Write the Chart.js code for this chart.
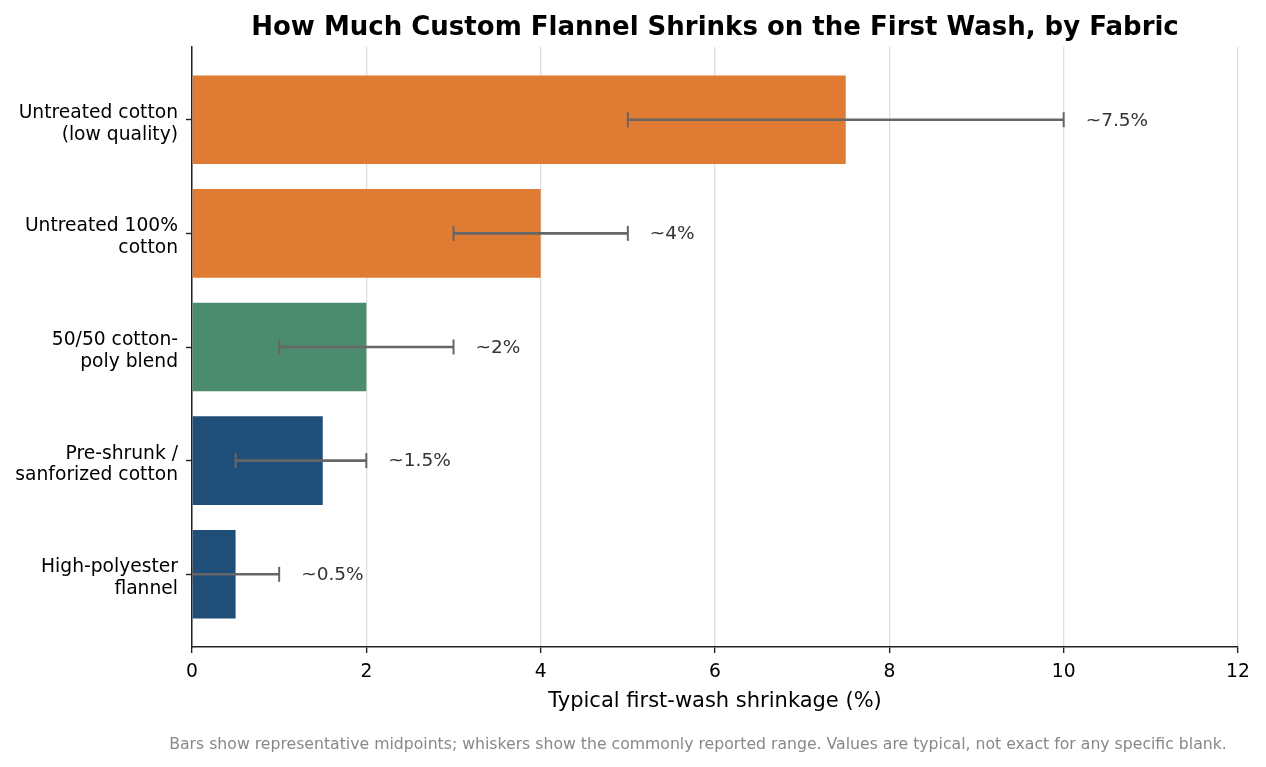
<!DOCTYPE html>
<html>
<head>
<meta charset="utf-8">
<title>Flannel shrinkage</title>
<script src="https://cdn.jsdelivr.net/npm/chart.js@4.4.1/dist/chart.umd.min.js"></script>
<style>
    body { margin: 0; background: #fff; }
    #wrap { width: 1266px; height: 767px; position: relative; }
</style>
</head>
<body>
<div id="wrap"><canvas id="chart"></canvas></div>
<script>
// data
const fabrics = [
    ['Untreated cotton', '(low quality)'],
    ['Untreated 100%', 'cotton'],
    ['50/50 cotton-', 'poly blend'],
    ['Pre-shrunk /', 'sanforized cotton'],
    ['High-polyester', 'flannel'],
]
const midpoints  = [7.5, 4, 2, 1.5, 0.5]
const rangeLow   = [5, 3, 1, 0.5, 0]
const rangeHigh  = [10, 5, 3, 2, 1]
const valueLabels = ['~7.5%', '~4%', '~2%', '~1.5%', '~0.5%']
const xTicks = [0, 2, 4, 6, 8, 10, 12]
const barColors = ['#E07B33', '#E07B33', '#4C8C6E', '#1F4E79', '#1F4E79']

const titleText = 'How Much Custom Flannel Shrinks on the First Wash, by Fabric'
const xTitle = 'Typical first-wash shrinkage (%)'
const footnote = 'Bars show representative midpoints; whiskers show the commonly reported range. Values are typical, not exact for any specific blank.'

const FONT = '"DejaVu Sans", sans-serif'
const AXIS = '#222222'
const WHISKER = '#666666'

const capPoints = []
fabrics.forEach((_, i) => {
    capPoints.push({ x: rangeLow[i], y: i })
    capPoints.push({ x: rangeHigh[i], y: i })
})

// title, footnote and "~x%" labels
const textPlugin = {
    id: 'texts',
    afterDatasetsDraw(chart) {
        const { ctx, scales } = chart
        ctx.save()
        ctx.textBaseline = 'middle'
        ctx.fillStyle = '#333333'
        ctx.font = `18.5px ${FONT}`
        ctx.textAlign = 'left'
        valueLabels.forEach((label, i) => {
            ctx.fillText(label, scales.x.getPixelForValue(rangeHigh[i]) + 22, scales.y.getPixelForValue(i) + 1)
        })
        ctx.restore()
    },
    afterDraw(chart) {
        const { ctx, chartArea } = chart
        ctx.save()
        ctx.textBaseline = 'middle'
        ctx.textAlign = 'center'
        ctx.fillStyle = '#000'
        ctx.font = `bold 26px ${FONT}`
        ctx.fillText(titleText, (chartArea.left + chartArea.right) / 2, 28)
        ctx.fillStyle = '#888888'
        ctx.font = `15.7px ${FONT}`
        ctx.fillText(footnote, 698, 745)
        ctx.restore()
    }
}

new Chart(document.getElementById('chart'), {
    type: 'bar',
    data: {
        datasets: [
            {
                indexAxis: 'y',
                data: fabrics.map((_, i) => ({ x: midpoints[i], y: i })),
                backgroundColor: barColors,
                borderWidth: 0,
                barPercentage: 0.78,
                categoryPercentage: 1,
                grouped: false,
                order: 3
            },
            {
                indexAxis: 'y',
                data: fabrics.map((_, i) => ({ x: [rangeLow[i], rangeHigh[i]], y: i })),
                backgroundColor: WHISKER,
                borderWidth: 0,
                barThickness: 2,
                grouped: false,
                order: 2
            },
            {
                type: 'scatter',
                data: capPoints,
                pointStyle: 'line',
                rotation: 90,
                pointRadius: 7.5,
                borderColor: WHISKER,
                borderWidth: 2,
                order: 1
            }
        ]
    },
    options: {
        indexAxis: 'y',
        responsive: true,
        maintainAspectRatio: false,
        animation: false,
        layout: { padding: { top: 47, right: 28, bottom: 53, left: 0 } },
        plugins: { legend: { display: false }, tooltip: { enabled: false } },
        scales: {
            x: {
                type: 'linear',
                offset: false,
                min: 0,
                max: 12,
                afterBuildTicks: axis => { axis.ticks = xTicks.map(v => ({ value: v })) },
                afterFit: axis => { axis.height = 67 },
                ticks: { color: '#000', font: { family: FONT, size: 18.7 }, padding: 8 },
                grid: { offset: false, color: '#dedede', lineWidth: 1.3, tickLength: 6, tickColor: AXIS, tickWidth: 1.4 },
                border: { color: AXIS, width: 1.5 },
                title: {
                    display: true,
                    text: xTitle,
                    color: '#000',
                    font: { family: FONT, size: 21 },
                    padding: { top: 1, bottom: 0 }
                }
            },
            y: {
                type: 'linear',
                reverse: true,
                offset: false,
                min: -0.64,
                max: 4.64,
                afterBuildTicks: axis => { axis.ticks = fabrics.map((_, i) => ({ value: i })) },
                afterFit: axis => { axis.width = 192 },
                ticks: {
                    autoSkip: false,
                    color: '#000',
                    font: { family: FONT, size: 18.7, lineHeight: 1.17 },
                    padding: 8,
                    labelOffset: 4,
                    callback: v => fabrics[v]
                },
                grid: { offset: false, drawOnChartArea: false, tickLength: 6, tickColor: AXIS, tickWidth: 1.4 },
                border: { color: AXIS, width: 1.5 }
            }
        }
    },
    plugins: [textPlugin]
})
</script>
</body>
</html>
